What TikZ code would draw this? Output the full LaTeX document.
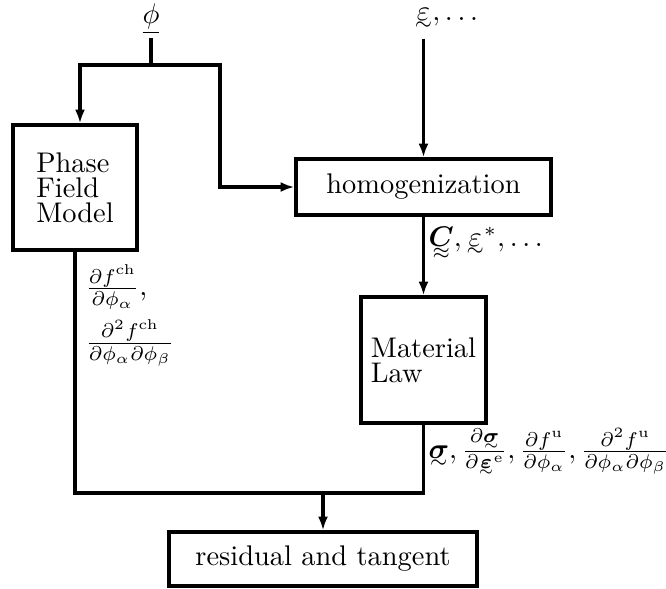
\documentclass[tikz,border=0pt]{standalone}
\usepackage{amsmath}
\usetikzlibrary{arrows.meta}
\def\pxs{0.352pt}
\def\tldsub#1{\ifx#1\scriptstyle\scriptscriptstyle\else\ifx#1\scriptscriptstyle\scriptscriptstyle\else\scriptstyle\fi\fi}
\newcommand{\tldauxx}[3]{\vtop{\ialign{##\crcr$\hfil#1#3\hfil$\crcr\noalign{\kern0.5pt\nointerlineskip}$\hfil\tldsub#1#2\hfil$\crcr}}}
\newcommand{\tldaux}[2]{\tldauxx#1#2}
\newcommand{\tld}[2][\sim]{\mathord{\mathpalette\tldaux{{#1}{#2}}}}
\begin{document}
\begin{tikzpicture}[x=\pxs,y=-\pxs,
  ln/.style={line width=1.2pt},
  arr/.style={ln,-{Latex[length=4.8pt,width=3.5pt]}},
  box/.style 2 args={draw, line width=1.2pt, inner sep=0pt,
    minimum width=#1*\pxs, minimum height=#2*\pxs,
    font=\fontsize{10}{8.8}\selectfont}]
\useasboundingbox (0,0) rectangle (666,588);
% nodes
\node[inner sep=1pt] (phi) at (151,19) {$\underline{\phi}$};
\node[anchor=west, inner xsep=0pt, inner ysep=3pt] (eps) at (414,19) {$\tld{\varepsilon},\dots$};
\node[box={124}{125}, align=left] (pf) at (75,187.5) {Phase\\Field\\Model};
\node[box={255}{56}] (hom) at (423.5,187) {homogenization};
\node[box={125}{126}, align=left] (mat) at (423.5,360) {Material\\Law};
\node[box={308}{54}] (res) at (323,559) {residual and tangent};
\coordinate (j) at (151,65);
\coordinate (rb) at (220,65);
\coordinate (m) at (323,493);
% labels
\node[anchor=west, inner sep=0pt] (clab) at (428,243)
  {$\tld[\approx]{\boldsymbol{C}},\tld{\varepsilon}^{*},\dots$};
\node[anchor=north west, inner sep=0pt, align=left] (pflab) at (85,264)
  {$\frac{\partial f^{\mathrm{ch}}}{\partial\phi_\alpha}$,\\[2.5pt]
   $\frac{\partial^2 f^{\mathrm{ch}}}{\partial\phi_\alpha\partial\phi_\beta}$};
\node[anchor=west, inner sep=0pt] (slab) at (428,452)
  {$\tld{\boldsymbol{\sigma}},\frac{\partial\tld{\boldsymbol{\sigma}}}{\partial\tld{\boldsymbol{\varepsilon}}^{\mathrm{e}}},\frac{\partial f^{\mathrm{u}}}{\partial\phi_\alpha},\frac{\partial^2 f^{\mathrm{u}}}{\partial\phi_\alpha\partial\phi_\beta}$};
% connectors
\draw[ln] (phi.south) -- (j);
\draw[arr] (j) -| ([xshift=5*\pxs]pf.north);
\draw[arr] (j) -- (rb) |- (hom.west);
\draw[arr] (eps.south -| hom.north) -- (hom.north);
\draw[arr] (hom.south) -- (mat.north);
\draw[ln] (pf.south) |- (m) -| (mat.south);
\draw[arr] (m) -- (res.north);
\end{tikzpicture}
\end{document}
